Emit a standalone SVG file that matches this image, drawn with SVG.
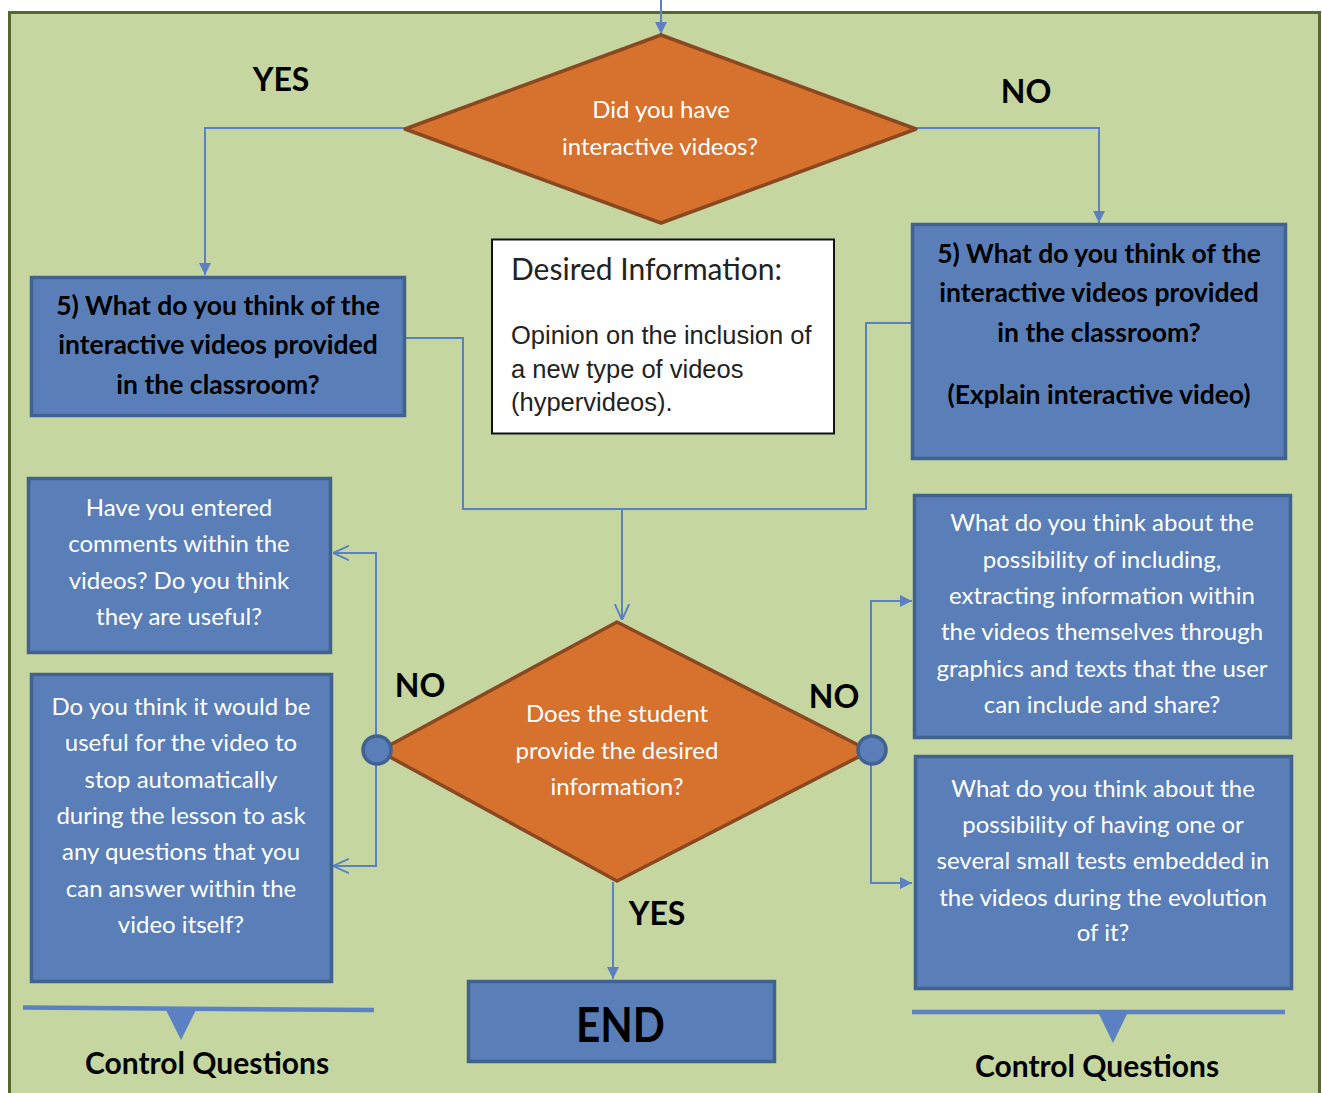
<svg xmlns="http://www.w3.org/2000/svg" width="1322" height="1093" viewBox="0 0 1322 1093">
  <style>
    .frame { fill: #C6D6A1; stroke: #56672F; stroke-width: 3; }
    .dec { fill: #D6712E; stroke: #8A4820; stroke-width: 3.5; stroke-linejoin: round; }
    .box { fill: #5A7FB8; stroke: #41618F; stroke-width: 3.5; }
    .info { fill: #FFFFFF; stroke: #111111; stroke-width: 2; }
    .dot { fill: #5A7FB8; stroke: #41618F; stroke-width: 3.5; }
    .wire { fill: none; stroke: #5B81C2; stroke-width: 2; }
    .bar { fill: none; stroke: #5B81C2; stroke-width: 4.5; }
    .wt { font-family: Lato, "Liberation Sans", sans-serif; font-size: 24px; fill: #FFFFFF; text-anchor: middle; }
    .bt { font-family: Lato, "Liberation Sans", sans-serif; font-size: 26.5px; font-weight: bold; fill: #000000; text-anchor: middle; }
    .lbl { font-family: Lato, "Liberation Sans", sans-serif; font-size: 32px; font-weight: bold; fill: #000000; text-anchor: middle; }
    .cq { font-family: Lato, "Liberation Sans", sans-serif; font-size: 30px; font-weight: bold; fill: #000000; text-anchor: middle; }
  </style>
  <defs>
    <marker id="solid" viewBox="0 0 10 10" refX="10" refY="5" markerWidth="12" markerHeight="12" markerUnits="userSpaceOnUse" orient="auto">
      <path d="M0,0 L10,5 L0,10 Z" fill="#5B81C2"/>
    </marker>
    <marker id="open" viewBox="0 0 10 10" refX="10" refY="5" markerWidth="16" markerHeight="16" markerUnits="userSpaceOnUse" orient="auto">
      <path d="M0,0.5 L10,5 L0,9.5" fill="none" stroke="#5B81C2" stroke-width="1.2"/>
    </marker>
  </defs>

  <!-- background panel -->
  <rect class="frame" x="9.5" y="12.5" width="1310" height="1090"/>

  <!-- connectors -->
  <g id="connectors">
    <path class="wire" d="M661,0 V34" marker-end="url(#solid)"/>
    <path class="wire" d="M404,128 H205 V275" marker-end="url(#solid)"/>
    <path class="wire" d="M917,128 H1099 V223" marker-end="url(#solid)"/>
    <path class="wire" d="M406,338 H463 V509 H866 V323 H912"/>
    <path class="wire" d="M622,509 V620" marker-end="url(#open)"/>
    <path class="wire" d="M376,750 V553 H333" marker-end="url(#open)"/>
    <path class="wire" d="M376,750 V866 H333" marker-end="url(#open)"/>
    <path class="wire" d="M871,750 V601 H912" marker-end="url(#solid)"/>
    <path class="wire" d="M871,750 V883 H912" marker-end="url(#solid)"/>
    <path class="wire" d="M613,882 V979" marker-end="url(#solid)"/>
  </g>

  <!-- branch labels -->
  <g id="labels">
    <text class="lbl" x="281" y="91">YES</text>
    <text class="lbl" x="1026" y="103">NO</text>
    <text class="lbl" x="420" y="697">NO</text>
    <text class="lbl" x="834" y="708">NO</text>
    <text class="lbl" x="657" y="925">YES</text>
  </g>

  <g id="decision-videos">
    <polygon class="dec" points="661,35 916,129 661,223 405,129"/>
    <text class="wt" x="661" y="118">Did you have</text>
    <text class="wt" x="660" y="155">interactive videos?</text>
  </g>

  <g id="question-left">
    <rect class="box" x="31.5" y="277.5" width="373" height="138"/>
    <text class="bt" x="218" y="315">5) What do you think of the</text>
    <text class="bt" x="218" y="354">interactive videos provided</text>
    <text class="bt" x="218" y="394">in the classroom?</text>
  </g>

  <g id="question-right">
    <rect class="box" x="912.5" y="224.5" width="373" height="234"/>
    <text class="bt" x="1099" y="263">5) What do you think of the</text>
    <text class="bt" x="1099" y="302">interactive videos provided</text>
    <text class="bt" x="1099" y="342">in the classroom?</text>
    <text class="bt" x="1099" y="404">(Explain interactive video)</text>
  </g>

  <g id="desired-info">
    <rect class="info" x="492" y="239.5" width="342" height="194"/>
    <text x="511" y="280" font-family="Lato, 'Liberation Sans', sans-serif" font-size="30" fill="#222222">Desired Information:</text>
    <text font-family="'Liberation Sans', Arial, sans-serif" font-size="25.5" fill="#222222">
      <tspan x="511" y="344">Opinion on the inclusion of</tspan>
      <tspan x="511" y="378">a new type of videos</tspan>
      <tspan x="511" y="411">(hypervideos).</tspan>
    </text>
  </g>

  <g id="decision-student">
    <polygon class="dec" points="617,622 870,751 617,881 379,751"/>
    <text class="wt" x="617" y="722">Does the student</text>
    <text class="wt" x="617" y="759">provide the desired</text>
    <text class="wt" x="617" y="795">information?</text>
  </g>

  <g id="port-left"><circle class="dot" cx="377" cy="750" r="14"/></g>
  <g id="port-right"><circle class="dot" cx="872" cy="750" r="14"/></g>

  <g id="control-comments">
    <rect class="box" x="28.5" y="478.5" width="302" height="174"/>
    <text class="wt" x="179" y="516">Have you entered</text>
    <text class="wt" x="179" y="552">comments within the</text>
    <text class="wt" x="179" y="589">videos? Do you think</text>
    <text class="wt" x="179" y="625">they are useful?</text>
  </g>

  <g id="control-stop">
    <rect class="box" x="31.5" y="674.5" width="300" height="307"/>
    <text class="wt" x="181" y="715">Do you think it would be</text>
    <text class="wt" x="181" y="751">useful for the video to</text>
    <text class="wt" x="181" y="788">stop automatically</text>
    <text class="wt" x="181" y="824">during the lesson to ask</text>
    <text class="wt" x="181" y="860">any questions that you</text>
    <text class="wt" x="181" y="897">can answer within the</text>
    <text class="wt" x="181" y="933">video itself?</text>
  </g>

  <g id="control-extract">
    <rect class="box" x="914.5" y="495.5" width="376" height="242"/>
    <text class="wt" x="1102" y="531">What do you think about the</text>
    <text class="wt" x="1102" y="568">possibility of including,</text>
    <text class="wt" x="1102" y="604">extracting information within</text>
    <text class="wt" x="1102" y="640">the videos themselves through</text>
    <text class="wt" x="1102" y="677">graphics and texts that the user</text>
    <text class="wt" x="1102" y="713">can include and share?</text>
  </g>

  <g id="control-tests">
    <rect class="box" x="915.5" y="756.5" width="376" height="232"/>
    <text class="wt" x="1103" y="797">What do you think about the</text>
    <text class="wt" x="1103" y="833">possibility of having one or</text>
    <text class="wt" x="1103" y="869">several small tests embedded in</text>
    <text class="wt" x="1103" y="906">the videos during the evolution</text>
    <text class="wt" x="1103" y="941">of it?</text>
  </g>

  <g id="end">
    <rect class="box" x="468.5" y="981.5" width="306" height="80"/>
    <text x="576" y="1042" font-family="Lato, 'Liberation Sans', sans-serif" font-size="48" font-weight="bold" fill="#000000" textLength="89" lengthAdjust="spacingAndGlyphs">END</text>
  </g>

  <g id="legend-left">
    <path class="bar" d="M23,1007.5 L374,1010"/>
    <polygon points="166,1010 196,1010 181,1040" fill="#5B81C2"/>
    <text class="cq" x="207" y="1074">Control Questions</text>
  </g>

  <g id="legend-right">
    <path class="bar" d="M912,1012 H1285"/>
    <polygon points="1098,1012 1128,1012 1113,1043" fill="#5B81C2"/>
    <text class="cq" x="1097" y="1077">Control Questions</text>
  </g>
</svg>
